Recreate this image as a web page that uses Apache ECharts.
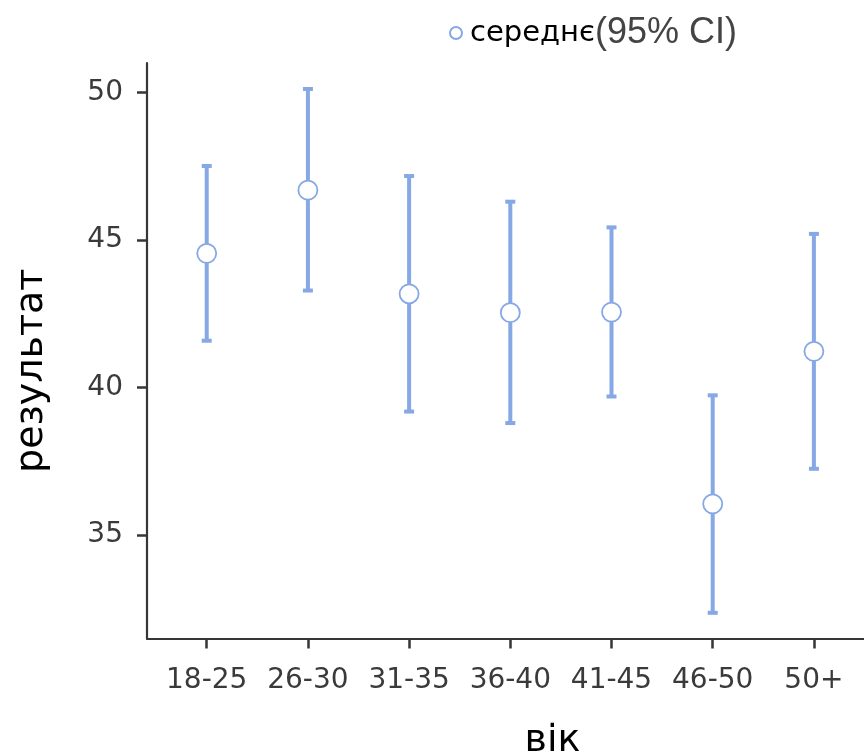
<!DOCTYPE html>
<html>
<head>
<meta charset="utf-8">
<script src="https://cdn.jsdelivr.net/npm/echarts@6/dist/echarts.min.js"></script>
<style>
html,body{margin:0;padding:0;background:#fff;}
#chart{width:864px;height:753px;}
</style>
</head>
<body>
<div id="chart"></div>
<script>
const categories = ['18-25', '26-30', '31-35', '36-40', '41-45', '46-50', '50+'];
const means = [44.55, 46.69, 43.18, 42.54, 42.56, 36.06, 41.23];
const lower = [41.59, 43.29, 39.19, 38.80, 39.70, 32.37, 37.25];
const upper = [47.51, 50.12, 47.17, 46.30, 45.43, 39.74, 45.21];
const yTicks = [35, 40, 45, 50];
const seriesName = 'середнє';
const ciLabel = '(95% CI)';
const xTitle = 'вік';
const yTitle = 'результат';

const blue = '#86a8e4';
const axisColor = '#363636';
const catIdx = categories.map((c, i) => i);

const chart = echarts.init(document.getElementById('chart'));
chart.setOption({
  animation: false,
  backgroundColor: '#fff',
  grid: { left: 147, right: 0, top: 63, bottom: 114.5, containLabel: false, outerBoundsMode: 'none' },
  legend: {
    show: true,
    left: 444,
    top: 10,
    icon: 'circle',
    itemWidth: 12,
    itemHeight: 12,
    data: [seriesName],
    formatter: name => '{a|' + name + '}{b|' + ciLabel + '}',
    textStyle: {
      rich: {
        a: { fontFamily: 'DejaVu Sans', fontSize: 29, color: '#000', padding: [0, 0, 0, 3] },
        b: { fontFamily: 'Liberation Sans', fontSize: 36, color: '#444' }
      }
    }
  },
  xAxis: {
    type: 'value',
    min: -0.59,
    max: 6.495,
    name: xTitle,
    nameLocation: 'middle',
    nameGap: 84,
    nameTextStyle: { fontFamily: 'DejaVu Sans', fontSize: 38, color: '#000', padding: [0, 0, 0, 94] },
    axisLine: { show: true, onZero: false, lineStyle: { color: axisColor, width: 2.2 } },
    axisTick: { show: true, customValues: catIdx, length: 10, lineStyle: { color: axisColor, width: 2.5 } },
    axisLabel: {
      customValues: catIdx,
      formatter: v => categories[Math.round(v)] || '',
      fontFamily: 'DejaVu Sans',
      fontSize: 28,
      color: '#3a3a3a',
      margin: 28
    },
    splitLine: { show: false }
  },
  yAxis: {
    type: 'value',
    min: 31.5,
    max: 51,
    name: yTitle,
    nameLocation: 'middle',
    nameGap: 96,
    nameTextStyle: { fontFamily: 'DejaVu Sans', fontSize: 38, color: '#000', padding: [0, 40, 0, 0] },
    axisLine: { show: true, onZero: false, lineStyle: { color: axisColor, width: 2.2 } },
    axisTick: { show: true, customValues: yTicks, length: 10, lineStyle: { color: axisColor, width: 2.5 } },
    axisLabel: {
      customValues: yTicks,
      fontFamily: 'DejaVu Sans',
      fontSize: 28,
      color: '#3a3a3a',
      margin: 24
    },
    splitLine: { show: false }
  },
  series: [
    {
      type: 'custom',
      name: 'ci',
      data: catIdx.map(i => [i, lower[i], upper[i]]),
      renderItem: function (params, api) {
        const x = api.value(0);
        const lo = api.coord([x, api.value(1)]);
        const hi = api.coord([x, api.value(2)]);
        const hw = 5;
        const style = { stroke: blue, lineWidth: 4, fill: null };
        return {
          type: 'group',
          children: [
            { type: 'line', shape: { x1: lo[0], y1: lo[1], x2: hi[0], y2: hi[1] }, style: style },
            { type: 'line', shape: { x1: lo[0] - hw, y1: lo[1], x2: lo[0] + hw, y2: lo[1] }, style: style },
            { type: 'line', shape: { x1: hi[0] - hw, y1: hi[1], x2: hi[0] + hw, y2: hi[1] }, style: style }
          ]
        };
      },
      z: 2
    },
    {
      type: 'scatter',
      name: seriesName,
      data: catIdx.map(i => [i, means[i]]),
      symbol: 'circle',
      symbolSize: 19,
      itemStyle: { color: '#fff', borderColor: blue, borderWidth: 1.8, opacity: 1 },
      z: 3
    }
  ]
});
</script>
</body>
</html>
